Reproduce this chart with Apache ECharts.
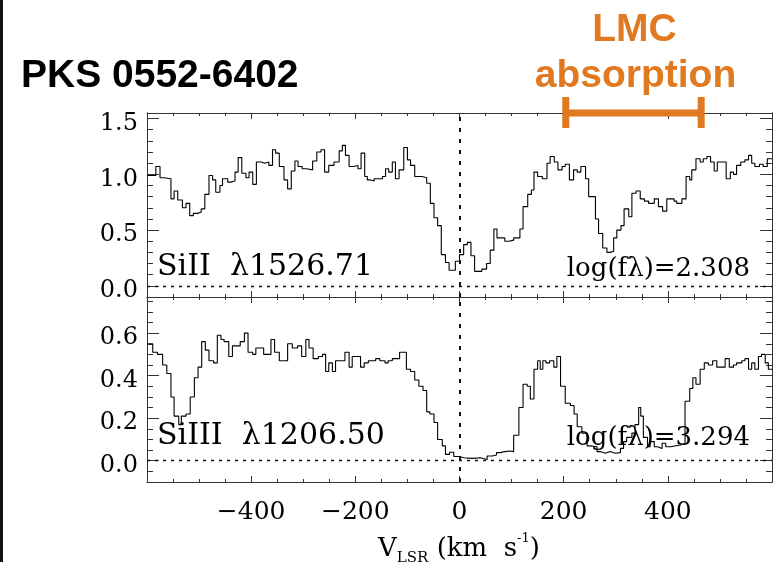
<!DOCTYPE html>
<html>
<head>
<meta charset="utf-8">
<script src="https://cdn.jsdelivr.net/npm/echarts@6/dist/echarts.min.js"></script>
<style>
  html, body { margin: 0; padding: 0; background: #fff; }
  #chart { width: 775px; height: 562px; }
</style>
</head>
<body>
<div id="chart"></div>
<script>
// Si II 1526.71 normalised flux: left edge of each velocity bin (km/s) and its value
const velSiII = [-600,-583,-575,-568,-554,-548,-541,-532,-525,-518,
  -511,-503,-496,-489,-481,-474,-468,-460,-455,-445,
  -439,-431,-425,-418,-410,-404,-397,-390,-381,-374,
  -366,-359,-353,-346,-337,-330,-323,-316,-310,-302,
  -294,-282,-274,-266,-259,-251,-241,-231,-225,-219,
  -212,-203,-195,-189,-182,-177,-171,-164,-157,-148,
  -142,-136,-129,-123,-116,-107,-100,-94,-86,-72,
  -63,-56,-49,-42,-35,-27,-20,-8,0,8,
  15,22,29,43,52,59,66,72,77,87,
  95,104,116,122,131,138,143,150,159,168,
  174,182,189,197,203,211,219,226,233,242,
  248,261,267,275,283,289,296,302,310,316,
  325,331,339,347,355,363,374,382,390,398,
  405,412,417,427,435,442,446,454,462,468,
  475,482,489,495,504,512,520,526,532,540,
  548,555,561,567,576,583,591];
const fluxSiII = [0.99,1.07,0.97,0.96,0.78,0.85,0.77,0.70,0.74,0.63,
  0.65,0.66,0.69,0.82,0.99,0.95,0.84,0.90,0.96,0.93,
  0.94,1.02,1.15,1.01,0.97,1.02,0.91,1.11,1.10,1.11,
  1.08,1.22,1.19,1.07,0.95,0.87,1.03,1.12,1.07,1.05,
  1.04,1.12,1.20,1.22,1.02,1.08,1.11,1.21,1.26,1.17,
  1.07,1.08,1.05,1.19,0.98,0.95,0.94,0.96,0.96,0.98,
  1.05,1.02,1.11,0.96,1.04,1.24,1.13,1.08,0.98,0.97,
  0.92,0.74,0.61,0.54,0.28,0.21,0.14,0.22,0.28,0.37,
  0.39,0.27,0.13,0.15,0.20,0.32,0.51,0.43,0.43,0.40,
  0.41,0.43,0.51,0.71,0.82,0.86,1.02,0.98,0.96,1.10,
  1.16,1.11,1.04,1.07,1.09,0.95,1.04,1.02,1.07,0.96,
  0.80,0.60,0.47,0.34,0.30,0.31,0.43,0.50,0.54,0.69,
  0.62,0.83,0.85,0.78,0.76,0.74,0.78,0.71,0.67,0.78,
  0.78,0.76,0.74,0.78,0.98,0.95,1.04,1.14,1.11,1.14,
  1.16,1.11,1.03,1.11,1.11,0.96,1.02,1.00,1.08,1.11,
  1.13,1.17,1.10,1.07,1.09,1.07,1.14];

// Si III 1206.50 normalised flux
const velSiIII = [-600,-589,-580,-570,-562,-554,-548,-539,-534,-525,
  -517,-509,-502,-495,-488,-481,-472,-465,-458,-452,
  -443,-436,-427,-421,-413,-406,-397,-391,-383,-376,
  -362,-355,-346,-337,-330,-321,-311,-303,-295,-289,
  -281,-271,-263,-257,-251,-244,-238,-229,-220,-212,
  -206,-199,-190,-183,-175,-167,-161,-153,-143,-137,
  -129,-123,-115,-102,-94,-86,-78,-70,-63,-57,
  -49,-42,-33,-27,-19,-11,-1,8,24,40,
  53,63,71,79,87,97,104,114,122,130,
  136,143,150,155,160,166,173,181,187,194,
  203,213,220,226,235,245,251,264,270,280,
  289,299,309,315,321,331,337,344,348,353,
  361,366,374,380,389,396,405,424,433,442,
  448,454,462,470,478,486,494,510,518,526,
  532,542,548,555,561,567,574,580,587,593];
const fluxSiIII = [0.55,0.51,0.50,0.45,0.41,0.30,0.21,0.17,0.21,0.22,
  0.30,0.39,0.44,0.56,0.52,0.47,0.46,0.59,0.57,0.56,
  0.49,0.54,0.54,0.56,0.60,0.51,0.50,0.53,0.53,0.50,
  0.57,0.51,0.47,0.47,0.55,0.53,0.54,0.49,0.57,0.53,
  0.48,0.49,0.50,0.42,0.46,0.42,0.47,0.47,0.51,0.44,
  0.49,0.49,0.44,0.46,0.47,0.47,0.48,0.47,0.46,0.47,
  0.48,0.48,0.51,0.43,0.42,0.38,0.35,0.33,0.23,0.22,
  0.18,0.10,0.07,0.03,0.04,0.02,0.014,0.011,0.014,0.006,
  0.022,0.027,0.038,0.043,0.046,0.043,0.12,0.25,0.36,0.35,
  0.29,0.43,0.47,0.43,0.47,0.46,0.47,0.44,0.49,0.35,
  0.27,0.26,0.22,0.16,0.13,0.07,0.066,0.043,0.035,0.043,
  0.035,0.038,0.058,0.09,0.11,0.13,0.17,0.25,0.21,0.11,
  0.066,0.09,0.066,0.058,0.082,0.066,0.074,0.082,0.28,0.34,
  0.39,0.36,0.43,0.46,0.45,0.47,0.44,0.48,0.44,0.45,
  0.46,0.47,0.48,0.43,0.46,0.43,0.49,0.50,0.46,0.43];

const velRange = [-600, 600];
const xTickLabels = [-400, -200, 0, 200, 400];
const yMajorSiII = [0, 0.5, 1.0, 1.5];
const yMajorSiIII = [0, 0.2, 0.4, 0.6];
const lmcRange = [204, 464];

const ink = '#000';
const axisInk = '#333';
const orange = '#E0791F';
const serif = '"DejaVu Serif", serif';

// step curve: each value held across its bin, closed at the right edge
function stepPoints(vel, flux) {
  const pts = vel.map((v, i) => [v, flux[i]]);
  pts.push([velRange[1], flux[flux.length - 1]]);
  return pts;
}
function minorTicks(from, to, step) {
  const out = [];
  const n = Math.round((to - from) / step);
  for (let k = 0; k <= n; k++) out.push(Math.round((from + k * step) * 1000) / 1000);
  return out;
}

const chart = echarts.init(document.getElementById('chart'), null, { renderer: 'canvas' });

const grids = [
  { left: 147, top: 113, width: 625, height: 184 },
  { left: 147, top: 297, width: 625, height: 185 }
];

function xAxisFor(grid, position, labels) {
  return {
    type: 'value', gridIndex: grid, position: position,
    min: velRange[0], max: velRange[1], interval: 200,
    axisLine: { show: true, onZero: false, lineStyle: { color: axisInk, width: 1 } },
    axisTick: { show: true, inside: true, length: 6, lineStyle: { color: axisInk } },
    minorTick: { show: true, splitNumber: 4, length: 3, lineStyle: { color: axisInk } },
    splitLine: { show: false },
    axisLabel: labels ? {
      show: true, customValues: xTickLabels, margin: 18,
      fontFamily: serif, fontSize: 25, color: ink,
      formatter: v => (v < 0 ? '\u2212' + Math.abs(v) : String(v))
    } : { show: false }
  };
}

function yAxesFor(grid, min, max, majors, minors) {
  const base = {
    type: 'value', gridIndex: grid, min: min, max: max,
    splitLine: { show: false },
    axisLine: { show: true, onZero: false, lineStyle: { color: axisInk, width: 1 } }
  };
  const majorTick = { show: true, inside: true, length: 12, customValues: majors, lineStyle: { color: axisInk } };
  const minorTick = { show: true, inside: true, length: 6, customValues: minors, lineStyle: { color: axisInk } };
  return [
    Object.assign({}, base, { position: 'left', axisTick: majorTick,
      axisLabel: { show: true, customValues: majors, margin: 9,
        verticalAlign: 'top', lineHeight: 10,
        fontFamily: serif, fontSize: 24, color: ink,
        formatter: v => v.toFixed(1) } }),
    Object.assign({}, base, { position: 'left', axisTick: minorTick, axisLabel: { show: false } }),
    Object.assign({}, base, { position: 'right', axisTick: majorTick, axisLabel: { show: false } }),
    Object.assign({}, base, { position: 'right', axisTick: minorTick, axisLabel: { show: false } })
  ];
}

function refLines() {
  return {
    silent: true, symbol: 'none', animation: false,
    label: { show: false },
    lineStyle: { color: '#111', width: 1.5 },
    data: [
      { yAxis: 0, lineStyle: { type: [3, 5], width: 1.3 } },
      { xAxis: 0, lineStyle: { type: [4, 7], width: 2 } }
    ]
  };
}

const option = {
  animation: false,
  backgroundColor: '#fff',
  grid: grids,
  xAxis: [
    xAxisFor(0, 'bottom', false),
    xAxisFor(0, 'top', false),
    xAxisFor(1, 'bottom', true),
    xAxisFor(1, 'top', false)
  ],
  yAxis: [].concat(
    yAxesFor(0, -0.1, 1.55, yMajorSiII, minorTicks(0, 1.5, 0.1)),
    yAxesFor(1, -0.1, 0.77, yMajorSiIII, minorTicks(-0.05, 0.75, 0.05))
  ),
  series: [
    {
      name: 'SiII 1526.71', type: 'line', xAxisIndex: 0, yAxisIndex: 0,
      step: 'end', showSymbol: false, symbol: 'none',
      lineStyle: { color: ink, width: 1.1 },
      data: stepPoints(velSiII, fluxSiII),
      markLine: refLines()
    },
    {
      name: 'SiIII 1206.50', type: 'line', xAxisIndex: 2, yAxisIndex: 4,
      step: 'end', showSymbol: false, symbol: 'none',
      lineStyle: { color: ink, width: 1.1 },
      data: stepPoints(velSiIII, fluxSiIII),
      markLine: refLines()
    }
  ]
};
chart.setOption(option);

// annotations: title, panel labels, axis title and the LMC velocity bracket
const xL = chart.convertToPixel({ xAxisIndex: 1 }, lmcRange[0]);
const xR = chart.convertToPixel({ xAxisIndex: 1 }, lmcRange[1]);
const yTop = chart.convertToPixel({ yAxisIndex: 0 }, 1.55);
const xMid = (xL + xR) / 2;

function label(text, x, y, font, align, color) {
  return { type: 'text', x: x, y: y, silent: true, z: 50,
    style: { text: text, font: font, fill: color || ink, align: align || 'left', verticalAlign: 'middle' } };
}

const boldSans = 'bold 39px "Liberation Sans", Arial, sans-serif';

chart.setOption({
  graphic: [
    { type: 'rect', shape: { x: 0, y: 0, width: 3, height: 562 }, style: { fill: '#141218' }, silent: true },
    label('PKS 0552-6402', 21, 76, boldSans),
    label('LMC', xMid + 1, 30, boldSans, 'center', orange),
    label('absorption', xMid + 2, 76, boldSans, 'center', orange),
    { type: 'rect', z: 60, silent: true, shape: { x: xL, y: yTop - 3.5, width: xR - xL, height: 7 }, style: { fill: orange } },
    { type: 'rect', z: 60, silent: true, shape: { x: xL - 3.5, y: yTop - 16, width: 7, height: 31 }, style: { fill: orange } },
    { type: 'rect', z: 60, silent: true, shape: { x: xR - 3.5, y: yTop - 16, width: 7, height: 31 }, style: { fill: orange } },
    label('SiII  \u03bb1526.71', 157, 267, '30px ' + serif),
    label('log(f\u03bb)=2.308', 750, 269, '26px ' + serif, 'right'),
    label('SiIII  \u03bb1206.50', 157, 436, '30px ' + serif),
    label('log(f\u03bb)=3.294', 750, 438, '26px ' + serif, 'right'),
    {
      type: 'text', x: 459, y: 549, silent: true,
      style: {
        text: '{a|V}{s|LSR}{a| (km  s}{p|-1}{a|)}',
        align: 'center', verticalAlign: 'middle', fill: ink,
        rich: {
          a: { fontFamily: serif, fontSize: 26, lineHeight: 34, fill: ink },
          s: { fontFamily: serif, fontSize: 15, lineHeight: 15, verticalAlign: 'bottom', fill: ink },
          p: { fontFamily: serif, fontSize: 13, lineHeight: 13, verticalAlign: 'top', fill: ink }
        }
      }
    }
  ]
});
</script>
</body>
</html>
